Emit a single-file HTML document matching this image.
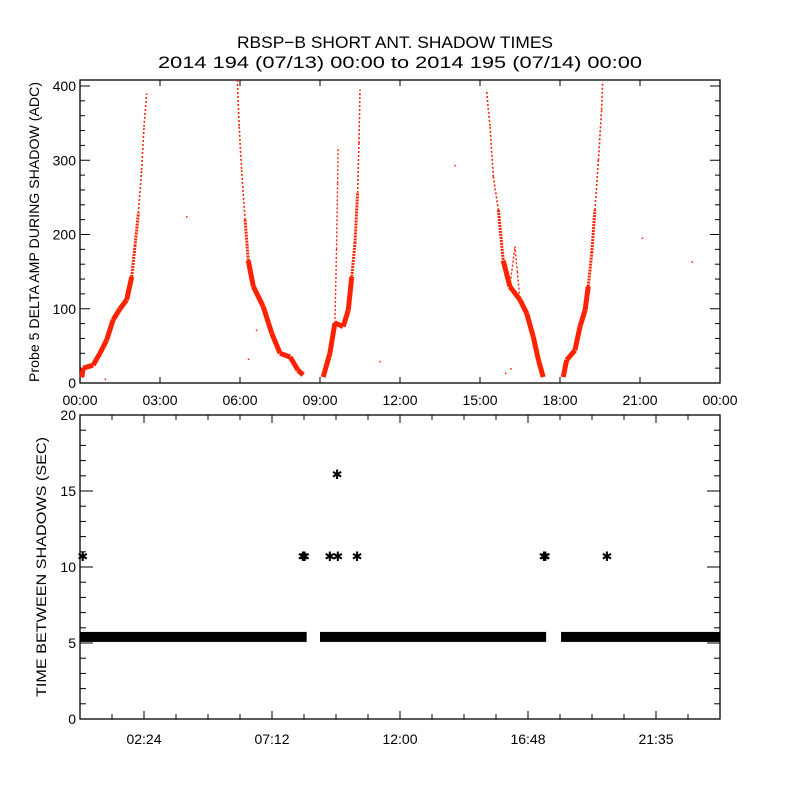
<!DOCTYPE html>
<html><head><meta charset="utf-8"><style>
html,body{margin:0;padding:0;background:#fff;}
svg{display:block;font-family:"Liberation Sans",sans-serif;}
</style></head><body>
<svg id="chart" width="800" height="800" viewBox="0 0 800 800">
<text x="395" y="48" text-anchor="middle" font-size="17" textLength="316" lengthAdjust="spacingAndGlyphs">RBSP−B SHORT ANT. SHADOW TIMES</text>
<text x="400" y="68" text-anchor="middle" font-size="17" textLength="484" lengthAdjust="spacingAndGlyphs">2014 194 (07/13) 00:00 to 2014 195 (07/14) 00:00</text>
<g id="topPanel"></g>
<g id="botPanel"></g>
</svg>
<script>
// ---- Top panel data (hour, ADC value) ----
const arc1Hours=[0.07,0.12,0.49,0.75,1.0,1.24,1.5,1.75,1.94,2.06,2.19,2.31,2.4,2.5];
const arc1Vals=[8,20,24,40,58,85,100,112,143,184,229,287,345,390];
const arc2Hours=[5.9,5.97,6.06,6.19,6.31,6.5,6.87,7.19,7.5,7.88,8.18,8.37];
const arc2Vals=[408,345,287,220,165,130,103,67,40,35,17,11];
const arc3Hours=[9.12,9.37,9.56,9.87,10.06,10.19,10.31,10.41,10.46,10.5];
const arc3Vals=[8,40,81,76,98,143,188,256,323,395];
const arc3bHours=[9.56,9.62,9.66,9.68];
const arc3bVals=[81,180,269,318];
const arc4Hours=[15.25,15.375,15.5,15.69,15.87,16.12,16.5,16.75,17.0,17.19,17.37];
const arc4Vals=[392,345,278,233,165,130,112,94,62,31,8];
const arc4bHours=[16.12,16.31,16.4,16.5];
const arc4bVals=[130,184,150,112];
const arc5Hours=[18.12,18.25,18.56,18.75,18.94,19.06,19.19,19.31,19.44,19.56,19.6];
const arc5Vals=[8,31,44,76,98,130,175,233,300,368,406];
const strayHours=[0.1,0.95,4.0,6.32,6.62,11.25,14.06,15.96,16.16,21.09,22.96];
const strayVals=[8,5,224,32,71,29,293,13,19,195,163];
const topYTicks=[0,100,200,300,400];
const topXLabels=["00:00","03:00","06:00","09:00","12:00","15:00","18:00","21:00","00:00"];
// ---- Bottom panel data ----
const bandStarts=[0,9.0,18.04];
const bandEnds=[8.5,17.48,24];
const bandValue=5.4;
const starHours=[0.1,8.36,8.42,9.37,9.67,9.64,10.39,17.4,17.45,19.76];
const starVals=[10.8,10.8,10.8,10.8,10.8,16.2,10.8,10.8,10.8,10.8];
const botYTicks=[0,5,10,15,20];
const botXTickHours=[2.4,7.2,12,16.8,21.6];
const botXLabels=["02:24","07:12","12:00","16:48","21:35"];

const NS="http://www.w3.org/2000/svg";
function mk(tag,attrs,parent){const e=document.createElementNS(NS,tag);for(const k in attrs)e.setAttribute(k,attrs[k]);parent.appendChild(e);return e;}
const L=80,R=720;
const xs=h=>L+h*(R-L)/24;
const T1=80,B1=383,yTop=v=>B1-v*0.7425;
const T2=415,B2=719,yBot=v=>B2-v*(B2-T2)/20;
const topG=document.getElementById('topPanel'),botG=document.getElementById('botPanel');

let f=mk('rect',{x:L,y:T1,width:R-L,height:B1-T1,fill:'none',stroke:'#000','stroke-width':1.3},topG);


for(let v=0;v<=400;v+=20){
  const maj=v%100===0,len=maj?10:5,y=yTop(v);
  let t=mk('line',{x1:L,x2:L+len,y1:y,y2:y,stroke:'#000'},topG);
  
  
  let t2=mk('line',{x1:R,x2:R-len,y1:y,y2:y,stroke:'#000'},topG);
  
  
}
topYTicks.forEach(v=>{
  let t=mk('text',{x:L-4,y:yTop(v)+5,'text-anchor':'end','font-size':14},topG);t.textContent=v;
  
  
});
topXLabels.forEach((s,i)=>{
  const x=xs(i*3);
  let a=mk('line',{x1:x,x2:x,y1:B1,y2:B1-6,stroke:'#000'},topG);
  
  
  let b=mk('line',{x1:x,x2:x,y1:T1,y2:T1+6,stroke:'#000'},topG);
  
  
  let t=mk('text',{x:x,y:405,'text-anchor':'middle','font-size':14},topG);t.textContent=s;
  
  
});
let yl=mk('text',{x:0,y:0,transform:'translate(39,232) rotate(-90)','text-anchor':'middle','font-size':14,textLength:300,lengthAdjust:'spacingAndGlyphs'},topG);
yl.textContent='Probe 5 DELTA AMP DURING SHADOW (ADC)';



function drawArc(hours,vals,name,thin){
  for(let i=0;i<hours.length-1;i++){
    const vm=(vals[i]+vals[i+1])/2;
    let w=vm<150?5:(vm<250?3:1.6);
    if(thin)w=1.4;
    const s=mk('line',{x1:xs(hours[i]),y1:yTop(vals[i]),x2:xs(hours[i+1]),y2:yTop(vals[i+1]),stroke:'#ff2200','stroke-width':w},topG);
    if(thin||vm>=250)s.setAttribute('stroke-dasharray','2 2');
    else if(vm>=150)s.setAttribute('stroke-dasharray','2 1');
    
    
  }
}
drawArc(arc1Hours,arc1Vals,'shadow-arc-1',false);
drawArc(arc2Hours,arc2Vals,'shadow-arc-2',false);
drawArc(arc3Hours,arc3Vals,'shadow-arc-3',false);
drawArc(arc3bHours,arc3bVals,'shadow-arc-3-branch',true);
drawArc(arc4Hours,arc4Vals,'shadow-arc-4',false);
drawArc(arc4bHours,arc4bVals,'shadow-arc-4-branch',true);
drawArc(arc5Hours,arc5Vals,'shadow-arc-5',false);
strayHours.forEach((h,i)=>{
  const r=mk('rect',{x:xs(h)-0.7,y:yTop(strayVals[i])-0.7,width:1.5,height:1.5,fill:'#ff2200'},topG);
  
  
});

f=mk('rect',{x:L,y:T2,width:R-L,height:B2-T2,fill:'none',stroke:'#000','stroke-width':1.3},botG);


for(let v=0;v<=20;v++){
  const maj=v%5===0,len=maj?13:6,y=yBot(v);
  let t=mk('line',{x1:L,x2:L+len,y1:y,y2:y,stroke:'#000'},botG);
  
  
  let t2=mk('line',{x1:R,x2:R-len,y1:y,y2:y,stroke:'#000'},botG);
  
  
}
botYTicks.forEach(v=>{
  let t=mk('text',{x:L-4,y:yBot(v)+5,'text-anchor':'end','font-size':14},botG);t.textContent=v;
  
  
});
for(let k=1;k<20;k++){
  const h=k*1.2;
  const maj=(k%4)===2,len=maj?8:5;
  let a=mk('line',{x1:xs(h),x2:xs(h),y1:B2,y2:B2-len,stroke:'#000'},botG);
  
  
  let b=mk('line',{x1:xs(h),x2:xs(h),y1:T2,y2:T2+len,stroke:'#000'},botG);
  
  
}
botXTickHours.forEach((h,i)=>{
  let t=mk('text',{x:xs(h),y:744,'text-anchor':'middle','font-size':14},botG);t.textContent=botXLabels[i];
  
  
});
yl=mk('text',{x:0,y:0,transform:'translate(46,567) rotate(-90)','text-anchor':'middle','font-size':14,textLength:260,lengthAdjust:'spacingAndGlyphs'},botG);
yl.textContent='TIME BETWEEN SHADOWS (SEC)';


bandStarts.forEach((s,i)=>{
  const r=mk('rect',{x:xs(s),y:yBot(bandValue)-5,width:xs(bandEnds[i])-xs(s),height:10,fill:'#000'},botG);
  
  
});
starHours.forEach((h,i)=>{
  const t=mk('text',{x:xs(h),y:yBot(starVals[i])+6,'text-anchor':'middle','font-size':13},botG);
  t.textContent='✱';
  
  
});
</script>
</body></html>
